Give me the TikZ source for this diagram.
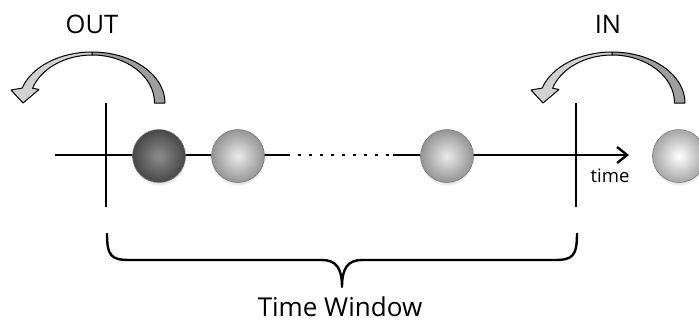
\documentclass[tikz,border=0pt]{standalone}
\usepackage{fontspec}
\setmainfont{Open Sans}
\usetikzlibrary{arrows.meta,shadows}
\tikzset{
  thickline/.style={line width=2.4pt, line cap=butt},
  ballbase/.style={circle, minimum size=53pt, inner sep=0pt, draw=black!55, line width=0.5pt,
     circular drop shadow={shadow xshift=0pt, shadow yshift=-3pt, shadow scale=1.02, opacity=0.25}},
  darkball/.style={ballbase, inner color=black!45, outer color=black!72},
  lightball/.style={ballbase, inner color=black!8, outer color=black!42},
  whiteball/.style={ballbase, inner color=white, outer color=black!35},
  lightband/.style={fill=black!18, draw=black, line width=1pt, line join=round},
  darkband/.style={fill=black!38, draw=black, line width=1pt, line join=round},
  biglabel/.style={font=\fontsize{25.5}{28}\selectfont, inner sep=0pt, anchor=base},
  smalllabel/.style={font=\fontsize{18.5}{21}\selectfont, inner sep=0pt, anchor=base},
}
\newcommand{\curvedarrow}{%
  % dark (back) band on the right
  \path[darkband] (165,103) arc[start angle=0, end angle=-90, x radius=73, y radius=51]
     -- (92,55) arc[start angle=-90, end angle=0, x radius=62.5, y radius=48] -- cycle;
  % light band with head on the left
  \path[lightband] (92,52) arc[start angle=-90, end angle=-163, x radius=73, y radius=51]
     -- (11,90) -- (23,103) -- (39,89.5) -- (32.6,88.2)
     arc[start angle=-162, end angle=-90, x radius=62.5, y radius=48] -- cycle;
}
\begin{document}
\begin{tikzpicture}[x=1pt, y=-1pt]
\clip (0,0) rectangle (699,322);
\fill[white] (0,0) rectangle (699,322);

% curved arrows
\begin{scope}\curvedarrow\end{scope}
\begin{scope}[xshift=520pt]\curvedarrow\end{scope}

% labels
\node[biglabel] (out) at (92,33) {OUT};
\node[biglabel] (in) at (608,33) {IN};

% time axis
\coordinate (axstart) at (55,155);
\coordinate (axend) at (629,155);
\coordinate (dotA) at (290,155);
\coordinate (dotB) at (393,155);
\draw[thickline] (axstart) -- (dotA);
\draw[line width=2.4pt, black!35] (dotA) -- (dotB);
\draw[line width=1.2pt, white] (dotA) -- (dotB);
\draw[line width=2.4pt, dash pattern=on 3pt off 8pt, dash phase=-8pt] (dotA) -- (dotB);
\draw[thickline, -{Straight Barb[length=10pt, width=16pt]}] (dotB) -- (axend);

% window borders
\coordinate (lt) at (106,103);
\coordinate (lb) at (106,207);
\coordinate (rt) at (576,103);
\coordinate (rb) at (576,207);
\draw[thickline] (lt) -- (lb);
\draw[thickline] (rt) -- (rb);

\node[smalllabel] (time) at (610,182) {time};

% balls
\node[darkball] (b1) at (159,156) {};
\node[lightball] (b2) at (238,156) {};
\node[lightball] (b3) at (447,156) {};
\node[whiteball] (b4) at (679,156) {};

% brace
\draw[line width=2.4pt, line join=round]
  (107,233) .. controls (107,256) and (111,260) .. (130,260)
  -- (322,260) .. controls (336,260) and (342,268) .. (342,287)
  .. controls (342,268) and (348,260) .. (362,260)
  -- (554,260) .. controls (573,260) and (577,256) .. (577,233);
\node[biglabel, font=\fontsize{26}{28}\selectfont] (tw) at (340,316.5) {Time Window};
\end{tikzpicture}
\end{document}
